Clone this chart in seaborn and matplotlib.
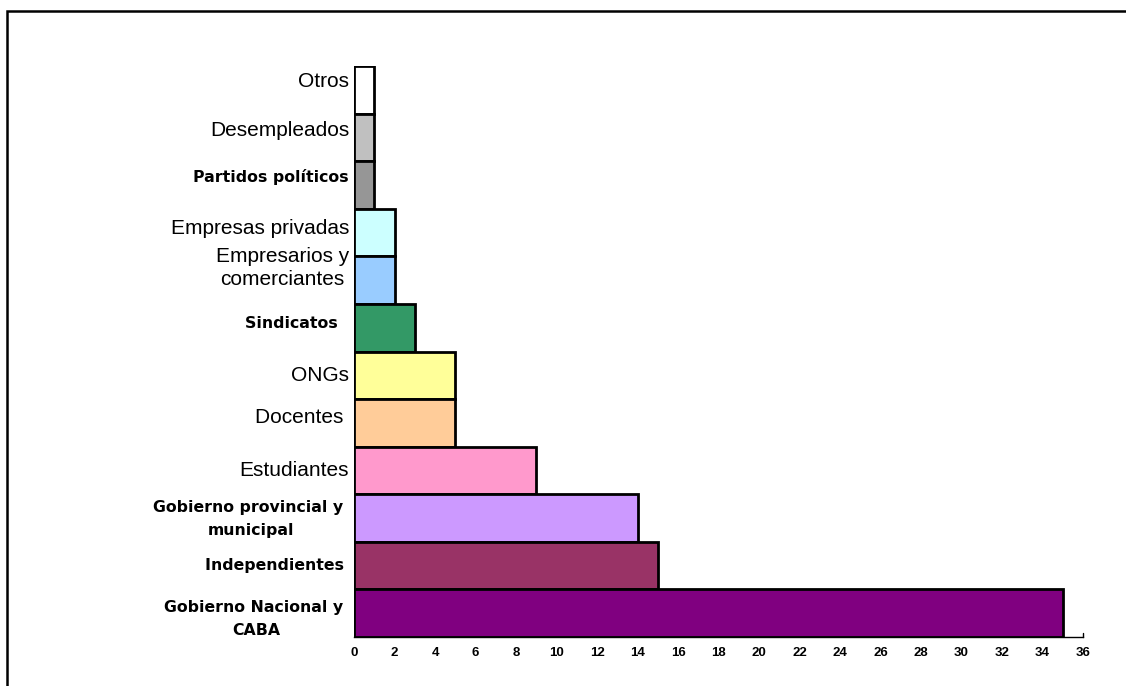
import numpy as np
import pandas as pd
import matplotlib.pyplot as plt
import matplotlib.transforms as mtransforms
import seaborn as sns
from matplotlib.patches import Rectangle

# data, top bar first
labels = ['Otros', 'Desempleados', 'Partidos políticos', 'Empresas privadas',
          'Empresarios y\ncomerciantes', 'Sindicatos  ', 'ONGs', 'Docentes ',
          'Estudiantes', 'Gobierno provincial y \nmunicipal', 'Independientes ',
          'Gobierno Nacional y \nCABA']
values = [1, 1, 1, 2, 2, 3, 5, 5, 9, 14, 15, 35]
colors = ['#FFFFFF', '#C0C0C0', '#969696', '#CCFFFF', '#99CCFF', '#339966',
          '#FFFF99', '#FFCC99', '#FF99CC', '#CC99FF', '#993366', '#800080']
bold_labels = ['Partidos políticos', 'Sindicatos  ', 'Gobierno provincial y \nmunicipal',
               'Independientes ', 'Gobierno Nacional y \nCABA']
x_ticks = list(range(0, 37, 2))

# label nudges (px, up is positive) - the original labels are not all centred
label_dy = [8, 7, 8, 4, 12, 4, 0, 5, 0, -1, 0, -6]

df = pd.DataFrame({'grupo': labels, 'valor': values})

sns.set_style('white')
plt.rcParams['text.color'] = 'black'
plt.rcParams['xtick.color'] = 'black'
plt.rcParams['ytick.color'] = 'black'

fig = plt.figure(figsize=(11.26, 6.86), dpi=100)
ax = fig.add_axes([0.3144, 0.0714, 0.6474, 0.8324])

sns.barplot(data=df, x='valor', y='grupo', hue='grupo', palette=colors,
            orient='h', width=1.0, saturation=1, edgecolor='black', linewidth=2,
            legend=False, ax=ax)

ax.set_xlim(0, 36)
ax.set_ylim(11.5, -0.5)
ax.set_xticks(x_ticks)
ax.set_xlabel('')
ax.set_ylabel('')
for side in ['top', 'right', 'left']:
    ax.spines[side].set_visible(False)
ax.spines['bottom'].set_linewidth(1)
ax.spines['bottom'].set_color('black')

ax.tick_params(axis='x', direction='out', length=3, width=1, color='black', pad=4.5)
ax.tick_params(axis='y', length=0)
ax.set_yticklabels([])

for t in ax.get_xticklabels():
    t.set_fontfamily('Liberation Sans')
    t.set_fontweight('bold')
    t.set_fontsize(9.5)
    t.set_color('black')

# category labels drawn by hand so each can be nudged, two fonts like the original
base = mtransforms.blended_transform_factory(ax.transAxes, ax.transData)
for i, lab in enumerate(labels):
    tr = base + mtransforms.ScaledTranslation(-5 / 100, label_dy[i] / 100,
                                              fig.dpi_scale_trans)
    if lab in bold_labels:
        ax.text(0, i, lab, transform=tr, ha='right', va='center',
                multialignment='center', family='DejaVu Sans', weight='bold',
                fontsize=11.3, linespacing=1.7, color='black')
    else:
        ax.text(0, i, lab, transform=tr, ha='right', va='center',
                multialignment='center', family='Liberation Sans',
                fontsize=15, linespacing=1.3, color='black')

# small closing tick at the end of the x axis
ax.plot([36, 36], [11.5, 11.42], color='black', lw=1, clip_on=False)

# frame around the chart area
fig.patches.append(Rectangle((7.5 / 1126, -0.1), 1.2, (686 - 10.5) / 686 + 0.1,
                             transform=fig.transFigure, fill=False,
                             edgecolor='black', linewidth=1.8))

fig.savefig('out.png', dpi=100)
